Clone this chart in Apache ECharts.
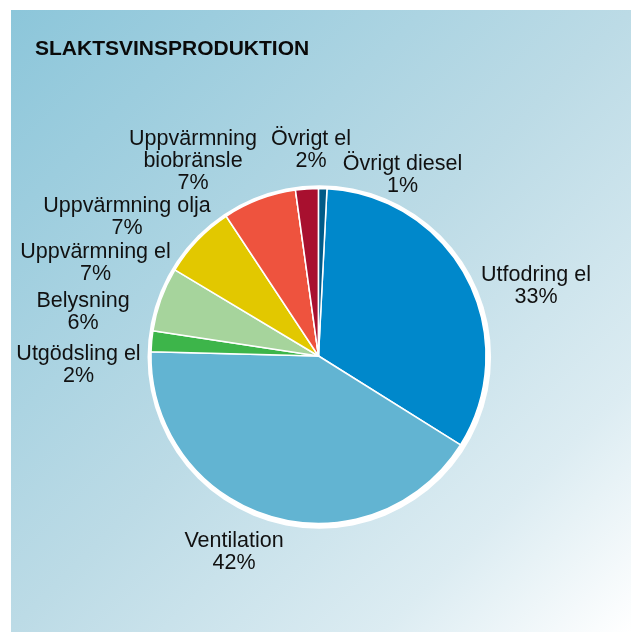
<!DOCTYPE html>
<html><head><meta charset="utf-8">
<script src="https://cdn.jsdelivr.net/npm/echarts@6/dist/echarts.min.js"></script>
<style>html,body{margin:0;padding:0;background:#fff}#c{width:633px;height:635px}</style>
</head><body><div id="c"></div>
<script>
const chartTitle = 'SLAKTSVINSPRODUKTION';
const categories = ['Utfodring el', 'Ventilation', 'Utgödsling el', 'Belysning', 'Uppvärmning el', 'Uppvärmning olja', 'Uppvärmning biobränsle', 'Övrigt el', 'Övrigt diesel'];
const values = [33.1, 41.5, 2.0, 6.2, 7.1, 7.1, 0, 2.2, 0.8];
const percentLabels = [33, 42, 2, 6, 7, 7, 7, 2, 1];
const colors = ['#0088cb', '#62b4d2', '#3db54a', '#a6d49c', '#e2c800', '#ee533e', '#ee533e', '#a8102f', '#005a87'];

// label anchor points (layout only)
const labelPos = [[536, 286.5], [234, 552], [78.5, 365], [83, 312], [95.5, 263.5], [127, 217], [193, 161], [311, 150], [402.5, 175]];

const chart = echarts.init(document.getElementById('c'), null, {renderer: 'canvas'});
const FONT = '"Liberation Sans", Arial, Helvetica, sans-serif';

function wrapName(n) {
  return n === 'Uppvärmning biobränsle' ? 'Uppvärmning\nbiobränsle' : n;
}

chart.setOption({
  animation: false,
  backgroundColor: '#ffffff',
  graphic: [{
    type: 'rect', z: -10, silent: true,
    shape: {x: 11, y: 10, width: 620, height: 622},
    style: {
      fill: new echarts.graphic.LinearGradient(0, 0, 1, 1, [
        {offset: 0, color: '#8cc6da'},
        {offset: 0.5, color: '#bcdbe6'},
        {offset: 0.8, color: '#dcecf2'},
        {offset: 1, color: '#ffffff'}
      ])
    }
  }],
  title: {
    text: chartTitle, left: 35, top: 39, padding: 0,
    textStyle: {fontFamily: FONT, fontSize: 21, fontWeight: 'bold', color: '#0a0a0a'}
  },
  series: [{
    type: 'pie', silent: true, z: 1,
    center: [319.3, 357], radius: 171.8,
    label: {show: false}, labelLine: {show: false},
    itemStyle: {color: '#ffffff'},
    data: [{value: 1, name: 'ring'}]
  }, {
    type: 'pie', z: 2,
    center: [318.5, 356], radius: 167.5,
    startAngle: 87.1, clockwise: true,
    avoidLabelOverlap: false, minShowLabelAngle: 0,
    itemStyle: {borderColor: '#ffffff', borderWidth: 1.5},
    label: {
      show: true, position: 'outside',
      fontFamily: FONT, fontSize: 21.5, lineHeight: 22, color: '#111',
      formatter: p => wrapName(p.name) + '\n' + percentLabels[p.dataIndex] + '%'
    },
    labelLine: {show: false},
    labelLayout: p => {
      const pos = labelPos[p.dataIndex];
      return {x: pos[0], y: pos[1], align: 'center', verticalAlign: 'middle'};
    },
    data: categories.map((c, i) => ({name: c, value: values[i], itemStyle: {color: colors[i]}}))
  }]
});
</script>
</body></html>
